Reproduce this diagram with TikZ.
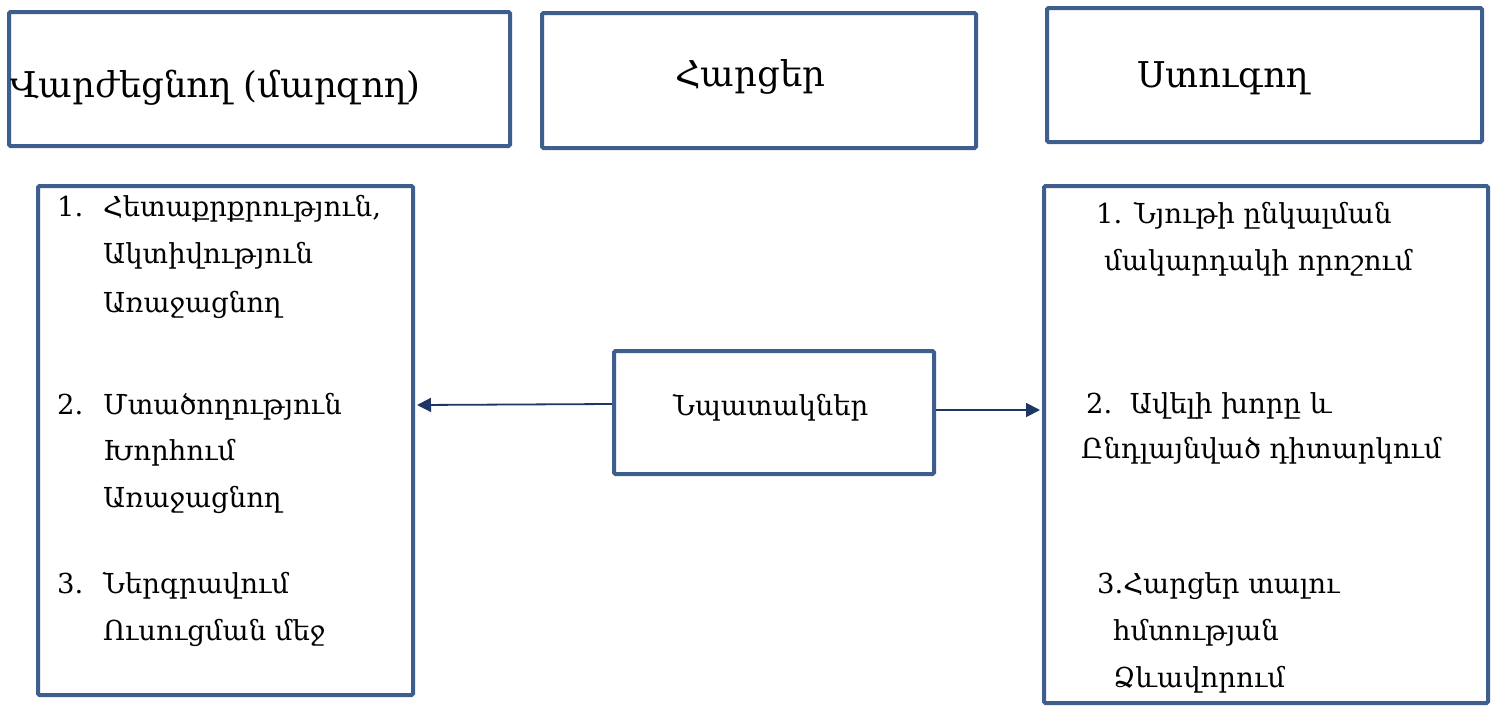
\documentclass[tikz,border=0pt]{standalone}
\usepackage{fontspec}
\setmainfont{DejaVu Serif}
\usetikzlibrary{arrows.meta}
\definecolor{boxc}{RGB}{62,95,142}
\definecolor{arrc}{RGB}{30,55,98}
\begin{document}
\begin{tikzpicture}[x=1pt,y=-1pt,
  box/.style={draw=boxc,line width=4pt,rounded corners=1.5pt,inner sep=0pt,fill=white},
  hd/.style={anchor=base west,inner sep=0pt,font=\fontsize{35.5}{40}\selectfont},
  tx/.style={anchor=base west,inner sep=0pt,font=\fontsize{27.5}{32}\selectfont},
  arr/.style={draw=arrc,line width=1.8pt,-{Triangle[length=14pt,width=14pt]}}]
\useasboundingbox (0,0) rectangle (1498,705);
% boxes
\node[box,minimum width=501pt,minimum height=134pt] (h1) at (259.5,79) {};
\node[box,minimum width=434pt,minimum height=135pt] (h2) at (759,80.5) {};
\node[box,minimum width=435pt,minimum height=134pt] (h3) at (1264.5,75) {};
\node[box,minimum width=375pt,minimum height=509pt] (lb) at (225.5,440.5) {};
\node[box,minimum width=444pt,minimum height=517pt] (rb) at (1266,444.5) {};
\node[box,minimum width=320pt,minimum height=123pt] (cb) at (774,412.5) {};
% headers
\node[hd] (t1) at (10,97) {Վարժեցնող (մարզող)};
\node[hd] (t2) at (675,86) {Հարցեր};
\node[hd] (t3) at (1137,87) {Ստուգող};
% left box
\node[tx] (n1) at (57,216) {1.};
\node[tx] (l11) at (103,216) {Հետաքրքրություն,};
\node[tx] (l12) at (103,263) {Ակտիվություն};
\node[tx] (l13) at (103,312) {Առաջացնող};
\node[tx] (n2) at (57,414) {2.};
\node[tx] (l21) at (103,414) {Մտածողություն};
\node[tx] (l22) at (103,460) {Խորհում};
\node[tx] (l23) at (103,507) {Առաջացնող};
\node[tx] (n3) at (57,593) {3.};
\node[tx] (l31) at (103,593) {Ներգրավում};
\node[tx] (l32) at (103,640) {Ուսուցման մեջ};
% center
\node[tx] (ct) at (673,415) {Նպատակներ};
% right box
\node[tx] (r11) at (1096,223) {1. Նյութի ընկալման};
\node[tx] (r12) at (1104,270) {մակարդակի որոշում};
\node[tx] (r21) at (1086,413) {2.\ \ Ավելի խորը և};
\node[tx] (r22) at (1081,458) {Ընդլայնված դիտարկում};
\node[tx] (r31) at (1097,593) {3.Հարցեր տալու};
\node[tx] (r32) at (1113,640) {հմտության};
\node[tx] (r33) at (1113,687) {Ձևավորում};
% connectors
\draw[arr] ([yshift=8.5pt]cb.west) -- ([yshift=35.5pt,xshift=2pt]lb.east);
\draw[arr] ([yshift=2.5pt]cb.east) -- ([yshift=34.5pt,xshift=-2pt]rb.west);
\end{tikzpicture}
\end{document}
